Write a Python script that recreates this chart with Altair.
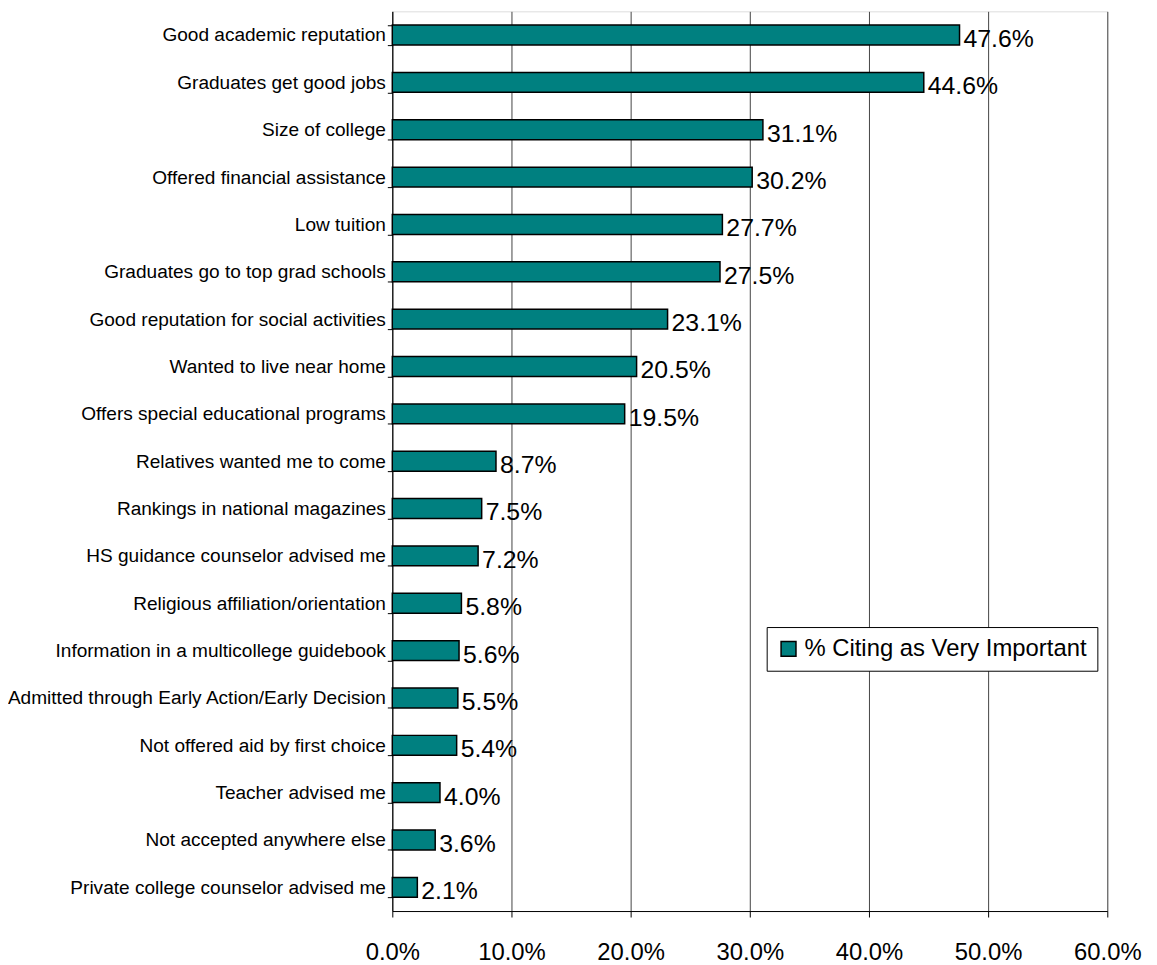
import altair as alt
import pandas as pd

categories = [
    "Good academic reputation",
    "Graduates get good jobs",
    "Size of college",
    "Offered financial assistance\u00a0",
    "Low tuition\u00a0",
    "Graduates go to top grad schools",
    "Good reputation for social activities",
    "Wanted to live near home",
    "Offers special educational programs\u00a0",
    "Relatives wanted me to come\u00a0",
    "Rankings in national magazines",
    "HS guidance counselor advised me",
    "Religious affiliation/orientation",
    "Information in a multicollege guidebook",
    "Admitted through Early Action/Early Decision",
    "Not offered aid by first choice\u00a0",
    "Teacher advised me",
    "Not accepted anywhere else\u00a0",
    "Private college counselor advised me",
]
values = [0.476, 0.446, 0.311, 0.302, 0.277, 0.275, 0.231, 0.205, 0.195,
          0.087, 0.075, 0.072, 0.058, 0.056, 0.055, 0.054, 0.040, 0.036, 0.021]
series_name = "% Citing as Very Important"
x_ticks = [0.0, 0.1, 0.2, 0.3, 0.4, 0.5, 0.6]

df = pd.DataFrame({"reason": categories, "value": values, "series": series_name})

FONT = "Liberation Sans"

y_enc = alt.Y(
    "reason:N",
    sort=categories,
    title=None,
    scale=alt.Scale(paddingInner=0.58, paddingOuter=0.29),
    axis=alt.Axis(
        tickBand="extent",
        tickSize=5,
        tickColor="black",
        domainColor="black",
        labelFontSize=19.2,
        labelFont=FONT,
        labelColor="black",
        labelPadding=2,
        labelLimit=500,
        grid=False,
    ),
)

x_enc = alt.X(
    "value:Q",
    title=None,
    scale=alt.Scale(domain=[0, 0.6], nice=False),
    axis=alt.Axis(
        values=x_ticks,
        format=".1%",
        tickSize=6,
        tickColor="black",
        domainColor="black",
        labelFontSize=24,
        labelFont=FONT,
        labelColor="black",
        labelPadding=24,
        labelFlush=False,
        grid=True,
        gridColor="#444444",
        gridWidth=1,
    ),
)

bars = alt.Chart(df).mark_bar(stroke="black", strokeWidth=1.5).encode(
    y=y_enc,
    x=x_enc,
    color=alt.Color(
        "series:N",
        scale=alt.Scale(domain=[series_name], range=["#008080"]),
        legend=alt.Legend(
            title=None,
            orient="none",
            legendX=377,
            legendY=620,
            symbolType="square",
            symbolSize=225,
            symbolStrokeColor="black",
            symbolStrokeWidth=1.5,
            labelFontSize=24,
            labelFont=FONT,
            labelColor="black",
            labelOffset=4,
            labelLimit=400,
            padding=10,
            strokeColor="black",
            fillColor="white",
        ),
    ),
)

labels = alt.Chart(df).mark_text(
    align="left", baseline="middle", dx=4, dy=4, fontSize=25, font=FONT, color="black"
).encode(
    y=alt.Y("reason:N", sort=categories),
    x="value:Q",
    text=alt.Text("value:Q", format=".1%"),
)

chart = (
    alt.layer(bars, labels)
    .properties(
        width=720,
        height=906,
        autosize=alt.AutoSizeParams(type="none"),
        padding={"left": 387, "top": 0, "right": 42, "bottom": 58},
    )
    .configure_view(stroke="#303030", strokeWidth=2)
    .configure(background="white")
)

chart.save("out.html", embed_options={"renderer": "svg", "actions": False})
